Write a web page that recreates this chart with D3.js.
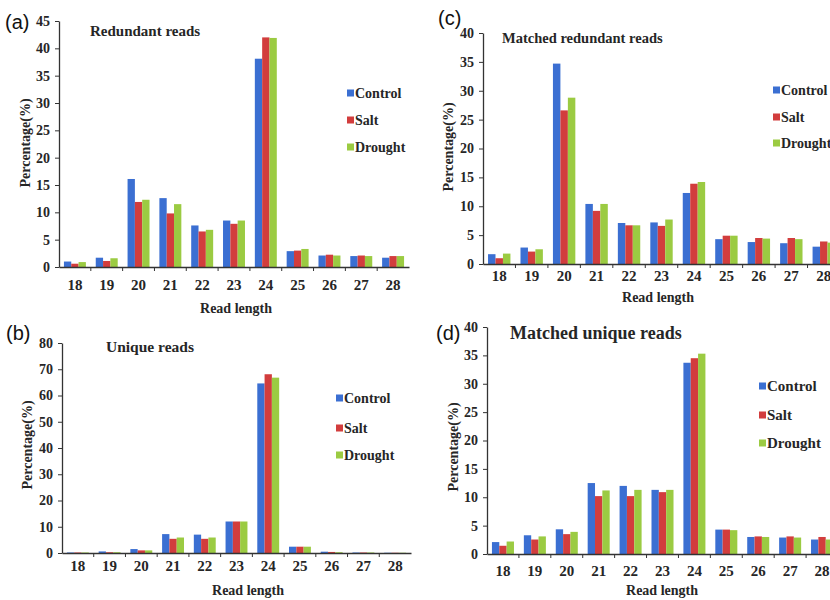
<!DOCTYPE html>
<html><head><meta charset="utf-8">
<script src="https://cdn.jsdelivr.net/npm/d3@7"></script>
<style>
body{margin:0;background:#fff;}
svg{display:block;}
.serif{font-family:"Liberation Serif","Times New Roman",serif;font-weight:bold;fill:#262626;}
</style></head>
<body>
<svg id="chart" width="830" height="600"></svg>
<script>
const categories = ["18","19","20","21","22","23","24","25","26","27","28"];
const seriesNames = ["Control","Salt","Drought"];
const colors = ["#3b6fd2","#d23d3d","#9bcb42"];

// (a) Redundant reads
const redundantControl = [1.0,1.7,16.1,12.6,7.6,8.5,38.1,2.9,2.1,2.0,1.7];
const redundantSalt    = [0.6,1.1,11.9,9.8,6.5,7.9,42.0,3.0,2.25,2.1,2.0];
const redundantDrought = [0.9,1.6,12.3,11.5,6.8,8.5,41.9,3.3,2.1,2.0,2.0];
const redundantTicks = [0,5,10,15,20,25,30,35,40,45];

// (b) Unique reads
const uniqueControl = [0.2,0.6,1.5,7.2,7.0,12.0,64.6,2.4,0.5,0.2,0.1];
const uniqueSalt    = [0.2,0.3,1.0,5.4,5.4,12.0,68.1,2.4,0.4,0.2,0.1];
const uniqueDrought = [0.2,0.3,1.0,5.9,5.9,12.0,66.8,2.4,0.3,0.2,0.1];
const uniqueTicks = [0,10,20,30,40,50,60,70,80];

// (c) Matched redundant reads
const matchedRedundantControl = [1.7,2.85,34.7,10.4,7.1,7.2,12.3,4.3,3.8,3.6,3.0];
const matchedRedundantSalt    = [1.0,2.15,26.6,9.2,6.7,6.6,13.9,4.9,4.5,4.5,3.9];
const matchedRedundantDrought = [1.8,2.55,28.8,10.4,6.7,7.7,14.2,4.9,4.4,4.3,3.7];
const matchedRedundantTicks = [0,5,10,15,20,25,30,35,40];

// (d) Matched unique reads
const matchedUniqueControl = [2.1,3.3,4.35,12.5,12.0,11.3,33.7,4.3,3.0,2.9,2.55];
const matchedUniqueSalt    = [1.45,2.55,3.5,10.2,10.2,10.9,34.5,4.3,3.1,3.1,3.0];
const matchedUniqueDrought = [2.2,3.1,3.9,11.2,11.3,11.3,35.3,4.2,3.0,2.9,2.55];
const matchedUniqueTicks = [0,5,10,15,20,25,30,35,40];

const svg = d3.select("#chart");

const panels = [
  {tag:"(a)", title:"Redundant reads", data:[redundantControl,redundantSalt,redundantDrought], ticks:redundantTicks,
   x0:59, x1:409, yTop:21, yBot:267, tagX:5, tagY:22, titleX:90, titleY:31, titleSize:15,
   legX:347, legY:[93,120,147], legSize:14, yTitle:[25,143], xTitle:[236,308], xLab:285},
  {tag:"(b)", title:"Unique reads", data:[uniqueControl,uniqueSalt,uniqueDrought], ticks:uniqueTicks,
   x0:62, x1:411, yTop:343, yBot:553, tagX:6, tagY:333, titleX:106, titleY:347, titleSize:15.5,
   legX:336, legY:[398,428,455], legSize:14, yTitle:[27,445], xTitle:[248,590], xLab:566},
  {tag:"(c)", title:"Matched redundant reads", data:[matchedRedundantControl,matchedRedundantSalt,matchedRedundantDrought], ticks:matchedRedundantTicks,
   x0:483, x1:840, yTop:33, yBot:264, tagX:438, tagY:18, titleX:502, titleY:38, titleSize:14.5,
   legX:773, legY:[90,117,143], legSize:14, yTitle:[448,147], xTitle:[658,297], xLab:276},
  {tag:"(d)", title:"Matched unique reads", data:[matchedUniqueControl,matchedUniqueSalt,matchedUniqueDrought], ticks:matchedUniqueTicks,
   x0:487, x1:838, yTop:327, yBot:554, tagX:436, tagY:333, titleX:510, titleY:333, titleSize:18,
   legX:759, legY:[386,415,443], legSize:15, yTitle:[453,447], xTitle:[662,590], xLab:571}
];

panels.forEach(p => {
  const g = svg.append("g");
  const x = d3.scaleBand().domain(categories).range([p.x0, p.x1]).padding(0);
  const bw = x.bandwidth();
  const gw = bw * 0.69;
  const xs = d3.scaleBand().domain(seriesNames).range([(bw-gw)/2, (bw+gw)/2]).padding(0);
  const yMax = p.ticks[p.ticks.length-1];
  const y = d3.scaleLinear().domain([0, yMax]).range([p.yBot, p.yTop]);

  // bars
  seriesNames.forEach((s, si) => {
    g.append("g").selectAll("rect").data(p.data[si]).join("rect")
      .attr("x", (d,i) => x(categories[i]) + xs(s))
      .attr("y", d => y(d))
      .attr("width", xs.bandwidth())
      .attr("height", d => y(0) - y(d))
      .attr("fill", colors[si]);
  });

  // y axis
  const ya = g.append("g").attr("transform", `translate(${p.x0},0)`)
    .call(d3.axisLeft(y).tickValues(p.ticks).tickSize(4).tickPadding(5).tickSizeOuter(0));
  ya.select(".domain").attr("stroke","#333").attr("stroke-width",1.3);
  ya.selectAll(".tick line").attr("stroke","#333");
  ya.selectAll("text").attr("class","serif").style("font-size","14px");

  // x axis
  const xa = g.append("g").attr("transform", `translate(0,${p.yBot})`)
    .call(d3.axisBottom(x).tickSize(0).tickPadding(12));
  xa.select(".domain").attr("stroke","#333").attr("stroke-width",1.3);
  xa.selectAll("text").attr("class","serif").style("font-size","15px")
    .attr("y", p.xLab - p.yBot).attr("dy","0.35em");
  // boundary ticks
  g.append("g").selectAll("line").data(categories.slice(1)).join("line")
    .attr("x1", d => x(d)).attr("x2", d => x(d))
    .attr("y1", p.yBot).attr("y2", p.yBot + 4)
    .attr("stroke","#333").attr("stroke-width",1);

  // tag
  g.append("text").attr("x", p.tagX).attr("y", p.tagY).attr("dy","0.35em")
    .style("font-family","'Liberation Sans',Arial,sans-serif").style("font-size","20px").attr("fill","#111")
    .text(p.tag);

  // title
  g.append("text").attr("class","serif").attr("x", p.titleX).attr("y", p.titleY).attr("dy","0.35em")
    .style("font-size", p.titleSize + "px").text(p.title);

  // axis titles
  g.append("text").attr("class","serif")
    .attr("transform", `translate(${p.yTitle[0]},${p.yTitle[1]}) rotate(-90)`)
    .attr("text-anchor","middle").attr("dy","0.35em").style("font-size","14px")
    .text("Percentage(%)");
  g.append("text").attr("class","serif")
    .attr("x", p.xTitle[0]).attr("y", p.xTitle[1]).attr("text-anchor","middle").attr("dy","0.35em")
    .style("font-size","14px").text("Read length");

  // legend
  seriesNames.forEach((s, si) => {
    g.append("rect").attr("x", p.legX).attr("y", p.legY[si] - 3.5).attr("width", 7).attr("height", 7).attr("fill", colors[si]);
    g.append("text").attr("class","serif").attr("x", p.legX + 8).attr("y", p.legY[si]).attr("dy","0.35em")
      .style("font-size", p.legSize + "px").text(s);
  });
});
</script>
</body></html>
